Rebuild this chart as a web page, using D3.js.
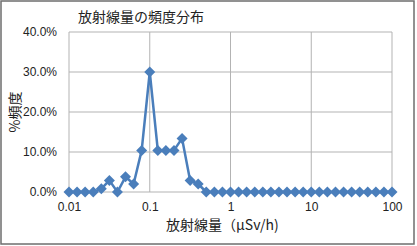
<!DOCTYPE html>
<html>
<head>
<meta charset="utf-8">
<script src="https://cdn.jsdelivr.net/npm/d3@7"></script>
<style>
  body { margin: 0; background: #fff; }
  svg { display: block; font-family: "Noto Sans CJK JP", "Noto Sans", sans-serif; }
</style>
</head>
<body>
<svg id="chart" width="417" height="246"></svg>
<script>
// bins: 10 per decade, 0.01 .. 100
const binExponents = d3.range(-20, 21).map(k => k / 10);
const doseValues = binExponents.map(e => Math.pow(10, e));
const freqValues = [
  0, 0, 0, 0, 0.8, 2.9, 0, 3.8, 2.0, 10.4,
  30.0, 10.4, 10.4, 10.4, 13.4, 2.9, 2.0, 0, 0, 0,
  0, 0, 0, 0, 0, 0, 0, 0, 0, 0,
  0, 0, 0, 0, 0, 0, 0, 0, 0, 0,
  0
];
const xTicks = [0.01, 0.1, 1, 10, 100];
const xTickLabels = ["0.01", "0.1", "1", "10", "100"];
const yTicks = [0, 10, 20, 30, 40];

const data = doseValues.map((d, i) => ({ dose: d, freq: freqValues[i] }));

const svg = d3.select("#chart");
const margin = { left: 69, right: 25, top: 32, bottom: 54 };
const W = 417, H = 246;

// outer frame
svg.append("rect")
  .attr("x", 1).attr("y", 1)
  .attr("width", W - 4).attr("height", H - 3)
  .attr("fill", "#fff")
  .attr("stroke", "#6e6e6e")
  .attr("stroke-width", 1.5);

const x = d3.scaleLog()
  .domain([0.01, 100])
  .range([margin.left, W - margin.right]);

const y = d3.scaleLinear()
  .domain([0, 40])
  .range([H - margin.bottom, margin.top]);

// gridlines
svg.append("g")
  .selectAll("line")
  .data(yTicks)
  .enter().append("line")
  .attr("x1", x(0.01)).attr("x2", x(100))
  .attr("y1", d => y(d)).attr("y2", d => y(d))
  .attr("stroke", "#b3b3b3").attr("stroke-width", 1);

svg.append("g")
  .selectAll("line")
  .data(xTicks)
  .enter().append("line")
  .attr("x1", d => x(d)).attr("x2", d => x(d))
  .attr("y1", y(0)).attr("y2", y(40))
  .attr("stroke", "#b3b3b3").attr("stroke-width", 1);

// axes labels
const yAxis = d3.axisLeft(y)
  .tickValues(yTicks)
  .tickSize(0)
  .tickPadding(12)
  .tickFormat(d => d.toFixed(1) + "%");
const yg = svg.append("g")
  .attr("transform", `translate(${x(0.01)},0)`)
  .call(yAxis);
yg.select(".domain").remove();
yg.selectAll("text").attr("font-size", 12).attr("fill", "#222")
  .attr("font-family", "Liberation Sans, Arial, sans-serif");

const xAxis = d3.axisBottom(x)
  .tickValues(xTicks)
  .tickSize(0)
  .tickPadding(10)
  .tickFormat((d, i) => xTickLabels[i]);
const xg = svg.append("g")
  .attr("transform", `translate(0,${y(0)})`)
  .call(xAxis);
xg.select(".domain").remove();
xg.selectAll("text").attr("font-size", 12).attr("fill", "#222")
  .attr("font-family", "Liberation Sans, Arial, sans-serif");

// line
const line = d3.line()
  .x(d => x(d.dose))
  .y(d => y(d.freq));

svg.append("path")
  .datum(data)
  .attr("fill", "none")
  .attr("stroke", "#4a7ebb")
  .attr("stroke-width", 2.5)
  .attr("stroke-linejoin", "round")
  .attr("d", line);

// diamond markers
svg.append("g")
  .selectAll("path")
  .data(data)
  .enter().append("path")
  .attr("transform", d => `translate(${x(d.dose)},${y(d.freq)})`)
  .attr("d", "M0,-5.5L5.5,0L0,5.5L-5.5,0Z")
  .attr("fill", "#4a7ebb");

// title
svg.append("text")
  .attr("x", 78).attr("y", 22)
  .attr("font-size", 14)
  .attr("fill", "#222")
  .text("放射線量の頻度分布");

// axis titles
svg.append("text")
  .attr("transform", `translate(20,${(y(0) + y(40)) / 2}) rotate(-90)`)
  .attr("text-anchor", "middle")
  .attr("font-size", 14)
  .attr("fill", "#222")
  .text("%頻度");

svg.append("text")
  .attr("x", 166).attr("y", 230)
  .attr("font-size", 14)
  .attr("fill", "#222")
  .text("放射線量（μSv/h)");
</script>
</body>
</html>
